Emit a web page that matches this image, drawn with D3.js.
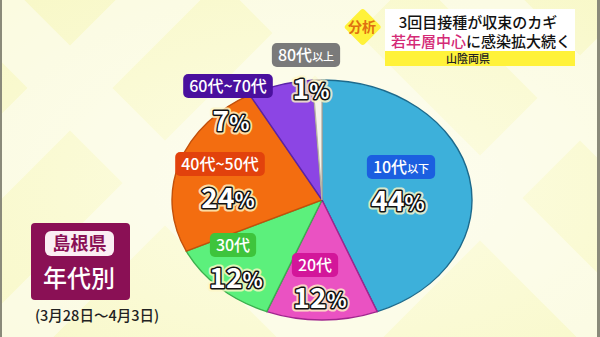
<!DOCTYPE html>
<html>
<head>
<meta charset="utf-8">
<script src="https://cdn.jsdelivr.net/npm/d3@7"></script>
<style>
  body { margin: 0; background: #fafad2; }
  svg { display: block; font-family: "Noto Sans CJK JP", "Noto Sans", sans-serif; }
</style>
</head>
<body>
<svg width="600" height="337"></svg>
<script>
// data (clockwise from 12 o'clock)
var ageGroups = ["10代", "20代", "30代", "40代~50代", "60代~70代", "80代"];
var groupSuffix = ["以下", "", "", "", "", "以上"];
var shares = [44, 12, 12, 24, 7, 1];

var sliceColors = ["#3db0da", "#ea52c2", "#5cf07c", "#f36d10", "#8c45e4", "#f6f3ea"];
var edgeColors = ["#1d6a8c", "#a1258e", "#3cb04e", "#c2500a", "#5a23a8", "#b9b3a6"];
var boxColors = ["#1b5fe0", "#d3169a", "#3ec43c", "#e2420c", "#4a109e", "#7a7a7a"];

// where each label sits (box centre; the percentage goes underneath)
var labelSpots = [[401, 167], [315, 265], [233, 245], [220, 164], [228, 86], [306, 55]];
var pctSpots = [[398, 201], [320, 298], [236, 278], [228, 198], [231, 121], [311, 89]];

var svg = d3.select("svg");
var W = 600, H = 337;

// background: pale yellow with white diagonal rays
var defs = svg.append("defs");
var bg = defs.append("radialGradient").attr("id", "bg")
  .attr("cx", "55%").attr("cy", "55%").attr("r", "75%");
bg.append("stop").attr("offset", "0%").attr("stop-color", "#fdfde6");
bg.append("stop").attr("offset", "100%").attr("stop-color", "#f8f8c8");
svg.append("rect").attr("width", W).attr("height", H).attr("fill", "url(#bg)");

var rays = svg.append("g").attr("fill", "#ffffff").attr("opacity", 0.45);
[[-40, 45], [150, 45], [420, -45], [620, -45], [120, -45], [480, 45]].forEach(function(r) {
  rays.append("rect")
    .attr("x", r[0]).attr("y", -200)
    .attr("width", 60).attr("height", 800)
    .attr("transform", "rotate(" + r[1] + "," + (r[0] + 30) + ",168)");
});

svg.append("rect").attr("x", 0).attr("y", 0).attr("width", 2).attr("height", H).attr("fill", "#8a8a7a");
svg.append("rect").attr("x", 597).attr("y", 0).attr("width", 3).attr("height", H).attr("fill", "#8a8a7a");

// pie, squashed into an ellipse
var cx = 322, cy = 200, R = 150;
var pie = d3.pie().sort(null).value(function(d) { return d; });
var arc = d3.arc().innerRadius(0).outerRadius(R);

var pieG = svg.append("g")
  .attr("transform", "translate(" + cx + "," + cy + ") scale(1,0.8)");

pieG.selectAll("path")
  .data(pie(shares))
  .enter()
  .append("path")
  .attr("d", arc)
  .attr("fill", function(d, i) { return sliceColors[i]; })
  .attr("stroke", function(d, i) { return edgeColors[i]; })
  .attr("stroke-width", 1.4)
  .attr("vector-effect", "non-scaling-stroke");

// labels
var labels = svg.append("g");
ageGroups.forEach(function(name, i) {
  var g = labels.append("g");
  var t = g.append("text")
    .attr("x", labelSpots[i][0]).attr("y", labelSpots[i][1] + 6)
    .attr("text-anchor", "middle")
    .attr("fill", "#fff")
    .attr("font-size", 16).attr("font-weight", 500);
  t.append("tspan").text(name);
  if (groupSuffix[i]) t.append("tspan").attr("font-size", 11).text(groupSuffix[i]);
  var bb = t.node().getBBox();
  g.insert("rect", "text")
    .attr("x", bb.x - 6).attr("y", labelSpots[i][1] - 12)
    .attr("width", bb.width + 12).attr("height", 24)
    .attr("rx", 5)
    .attr("fill", boxColors[i]);

  var p = pctSpots[i];
  [["#fff8c8", 7, 0.8], ["#111", 3, 1], [null, 0, 1]].forEach(function(s) {
    var pt = labels.append("text")
      .attr("x", p[0]).attr("y", p[1] + 10)
      .attr("text-anchor", "middle")
      .attr("font-size", 28).attr("font-weight", 700)
      .attr("fill", s[0] ? s[0] : "#fff")
      .attr("opacity", s[2]);
    if (s[0]) {
      pt.attr("stroke", s[0]).attr("stroke-width", s[1]).attr("stroke-linejoin", "round");
    }
    pt.append("tspan").text(shares[i]);
    pt.append("tspan").attr("font-size", 21).text("%");
  });
});

// Shimane caption box
var cap = svg.append("g");
cap.append("rect").attr("x", 31).attr("y", 223).attr("width", 99).attr("height", 77)
  .attr("rx", 4).attr("fill", "#8a1055");
cap.append("rect").attr("x", 45).attr("y", 231).attr("width", 69).attr("height", 25)
  .attr("rx", 6).attr("fill", "#fbeef3");
cap.append("text").attr("x", 79.5).attr("y", 250).attr("text-anchor", "middle")
  .attr("font-size", 18).attr("font-weight", 700).attr("fill", "#8a1055").text("島根県");
cap.append("text").attr("x", 79).attr("y", 287).attr("text-anchor", "middle")
  .attr("font-size", 24).attr("font-weight", 500).attr("fill", "#fff").text("年代別");
cap.append("text").attr("x", 97).attr("y", 321).attr("text-anchor", "middle")
  .attr("font-size", 14.5).attr("font-weight", 500).attr("fill", "#222").text("(3月28日～4月3日)");

// headline block
var head = svg.append("g");
head.append("rect").attr("x", 385).attr("y", 9).attr("width", 190).attr("height", 42)
  .attr("fill", "#fff");
head.append("rect").attr("x", 385).attr("y", 51).attr("width", 190).attr("height", 15)
  .attr("fill", "#fff23a");
head.append("text").attr("x", 478).attr("y", 28).attr("text-anchor", "middle")
  .attr("font-size", 15).attr("font-weight", 500).attr("fill", "#111").text("3回目接種が収束のカギ");
var h2 = head.append("text").attr("x", 481).attr("y", 47).attr("text-anchor", "middle")
  .attr("font-size", 15).attr("font-weight", 500).attr("fill", "#111");
h2.append("tspan").attr("fill", "#d42a76").text("若年層中心");
h2.append("tspan").text("に感染拡大続く");
head.append("text").attr("x", 468).attr("y", 63).attr("text-anchor", "middle")
  .attr("font-size", 11).attr("font-weight", 500).attr("fill", "#222").text("山陰両県");

// yellow diamond tag
head.append("rect").attr("x", 349).attr("y", 13).attr("width", 27).attr("height", 27)
  .attr("rx", 3).attr("fill", "#fff23a")
  .attr("transform", "rotate(45,362,27)");
head.append("text").attr("x", 362).attr("y", 32).attr("text-anchor", "middle")
  .attr("font-size", 14).attr("font-weight", 700).attr("fill", "#e07010").text("分析");
</script>
</body>
</html>
